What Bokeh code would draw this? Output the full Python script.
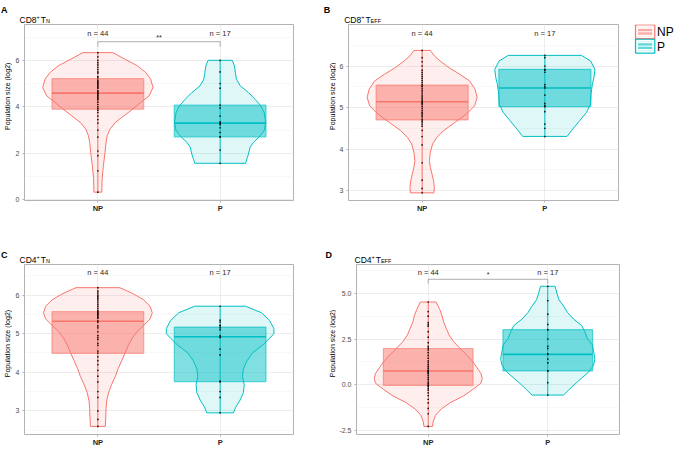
import math
from bokeh.plotting import figure
from bokeh.layouts import row, column
from bokeh.models import Range1d, FixedTicker
from bokeh.embed import file_html
from bokeh.resources import INLINE
from bokeh.core.properties import value

FONT = "Liberation Sans"
NP_COLOR = "#F8766D"
P_COLOR = "#00BFC4"

groups = ["NP", "P"]
n_labels = ["n = 44", "n = 17"]
y_title = "Population size (log2)"

# ---------------- Panel A : CD8+ T_N ----------------
a_np_points = [0.33, 1.25, 1.9, 2.1, 2.7, 3.0, 3.3, 3.45, 3.6, 3.75, 3.85, 3.92, 4.0, 4.1, 4.2, 4.3,
               4.35, 4.4, 4.45, 4.5, 4.55, 4.58, 4.6, 4.65, 4.7, 4.8, 4.85, 4.9, 4.95, 5.0, 5.05,
               5.1, 5.15, 5.25, 5.3, 5.45, 5.5, 5.6, 5.7, 5.8, 5.9, 6.0, 6.15, 6.33]
a_p_points = [1.57, 2.14, 2.7, 2.72, 2.9, 3.1, 3.23, 3.3, 3.3, 3.35, 3.6, 3.95, 4.07, 4.8, 5.0, 5.5, 6.0]
a_np_box = [3.90, 4.59, 5.21]   # q1, median, q3
a_p_box = [2.71, 3.30, 4.07]
a_np_viol_y = [6.33, 6.04, 5.76, 5.47, 5.19, 4.83, 4.47, 4.19, 3.90, 3.61, 3.33, 3.04, 2.76, 2.47,
               2.04, 1.47, 0.90, 0.33]
a_np_viol_w = [0.123, 0.224, 0.325, 0.392, 0.432, 0.451, 0.419, 0.352, 0.285, 0.213, 0.144, 0.099,
               0.077, 0.067, 0.059, 0.045, 0.035, 0.032]
a_p_viol_y = [6.0, 5.76, 5.47, 5.19, 4.90, 4.61, 4.33, 4.04, 3.76, 3.33, 2.97, 2.69, 2.47, 2.26,
              1.97, 1.76, 1.57]
a_p_viol_w = [0.099, 0.117, 0.125, 0.133, 0.165, 0.232, 0.285, 0.333, 0.36, 0.373, 0.36, 0.317,
              0.272, 0.245, 0.232, 0.219, 0.208]

# ---------------- Panel B : CD8+ T_EFF ----------------
b_np_points = [2.944, 3.05, 3.25, 3.67, 4.1, 4.3, 4.45, 4.55, 4.6, 4.65, 4.68, 4.72, 4.78, 4.82, 4.85,
               4.88, 4.92, 4.97, 5.02, 5.07, 5.1, 5.12, 5.15, 5.18, 5.22, 5.26, 5.3, 5.35, 5.4, 5.45,
               5.5, 5.52, 5.55, 5.6, 5.65, 5.7, 5.75, 5.8, 5.85, 5.9, 6.0, 6.1, 6.2, 6.376]
b_p_points = [4.3, 4.5, 4.6, 4.9, 5.02, 5.05, 5.1, 5.3, 5.47, 5.5, 5.55, 5.85, 5.9, 5.92, 6.0, 6.2, 6.256]
b_np_box = [4.70, 5.14, 5.54]
b_p_box = [5.02, 5.47, 5.92]
b_np_viol_y = [6.376, 6.24, 6.12, 5.96, 5.80, 5.64, 5.44, 5.24, 5.04, 4.84, 4.64, 4.44, 4.28, 4.12,
               3.92, 3.72, 3.56, 3.40, 3.24, 3.08, 2.944]
b_np_viol_w = [0.067, 0.101, 0.147, 0.219, 0.307, 0.387, 0.432, 0.448, 0.427, 0.36, 0.267, 0.173,
               0.12, 0.085, 0.067, 0.059, 0.067, 0.08, 0.093, 0.099, 0.096]
b_p_viol_y = [6.256, 6.12, 5.92, 5.72, 5.56, 5.32, 5.08, 4.88, 4.68, 4.48, 4.304]
b_p_viol_w = [0.299, 0.373, 0.408, 0.40, 0.387, 0.376, 0.371, 0.339, 0.283, 0.227, 0.181]

# ---------------- Panel C : CD4+ T_N ----------------
c_np_points = [2.6, 2.78, 3.0, 3.35, 3.5, 3.75, 3.9, 4.05, 4.2, 4.3, 4.4, 4.5, 4.55, 4.7, 4.75, 4.85,
               4.9, 4.95, 5.05, 5.15, 5.2, 5.3, 5.33, 5.4, 5.42, 5.45, 5.48, 5.5, 5.52, 5.55, 5.57,
               5.6, 5.65, 5.7, 5.75, 5.8, 5.85, 5.9, 5.93, 5.97, 6.0, 6.05, 6.1, 6.19]
c_p_points = [2.95, 3.35, 3.5, 3.75, 3.77, 4.45, 4.6, 4.9, 4.92, 4.95, 5.1, 5.15, 5.2, 5.22, 5.3, 5.35, 5.71]
c_np_box = [4.49, 5.32, 5.57]
c_p_box = [3.76, 4.92, 5.17]
c_np_viol_y = [6.19, 6.04, 5.88, 5.71, 5.54, 5.38, 5.21, 5.05, 4.88, 4.71, 4.51, 4.30, 4.09, 3.89,
               3.68, 3.47, 3.26, 3.06, 2.81, 2.60]
c_np_viol_w = [0.179, 0.285, 0.373, 0.427, 0.445, 0.427, 0.373, 0.32, 0.28, 0.251, 0.224, 0.195,
               0.165, 0.143, 0.112, 0.087, 0.072, 0.067, 0.064, 0.061]
c_p_viol_y = [5.71, 5.54, 5.34, 5.13, 5.0, 4.88, 4.71, 4.51, 4.30, 4.09, 3.89, 3.68, 3.47, 3.26,
              3.10, 2.95]
c_p_viol_w = [0.208, 0.339, 0.405, 0.44, 0.44, 0.405, 0.35, 0.267, 0.22, 0.19, 0.183, 0.197, 0.19,
              0.16, 0.128, 0.109]

# ---------------- Panel D : CD4+ T_EFF ----------------
d_np_points = [-2.29, -1.6, -1.3, -1.0, -0.8, -0.6, -0.45, -0.3, -0.2, -0.1, -0.05, -0.02, 0.05, 0.1,
               0.2, 0.3, 0.4, 0.5, 0.6, 0.65, 0.7, 0.73, 0.77, 0.8, 0.9, 1.0, 1.1, 1.2, 1.3, 1.45,
               1.6, 1.75, 1.9, 2.0, 2.1, 2.3, 2.6, 2.9, 3.2, 3.3, 3.4, 3.75, 4.0, 4.525]
d_p_points = [-0.57, 0.11, 0.75, 0.76, 1.19, 1.4, 1.66, 1.7, 1.98, 2.1, 2.5, 3.01, 3.02, 3.3, 3.86, 4.6, 5.387]
d_np_box = [-0.04, 0.75, 1.98]
d_p_box = [0.75, 1.66, 3.01]
d_np_viol_y = [4.525, 4.12, 3.77, 3.42, 3.07, 2.72, 2.36, 2.01, 1.66, 1.31, 0.96, 0.61, 0.343,
               0.079, -0.27, -0.62, -0.975, -1.33, -1.68, -2.03, -2.29]
d_np_viol_w = [0.066, 0.096, 0.116, 0.129, 0.152, 0.174, 0.212, 0.262, 0.317, 0.366, 0.405, 0.441,
               0.452, 0.441, 0.372, 0.295, 0.187, 0.110, 0.061, 0.041, 0.036]
d_p_viol_y = [5.387, 5.0, 4.65, 4.30, 3.95, 3.59, 3.24, 2.89, 2.54, 2.19, 1.84, 1.40, 1.05, 0.69,
              0.34, -0.01, -0.27, -0.57]
d_p_viol_w = [0.061, 0.077, 0.094, 0.132, 0.165, 0.215, 0.284, 0.311, 0.33, 0.372, 0.383, 0.394,
              0.383, 0.342, 0.281, 0.22, 0.179, 0.132]

COLORS = [NP_COLOR, P_COLOR]
BOX_HALF = 0.375
STRIP_H = 23


def blank(width, height):
    """A figure with no axes whose frame fills it, in pixel-like coordinates (y down)."""
    f = figure(width=width, height=height, x_range=Range1d(0, width), y_range=Range1d(height, 0),
               output_backend="svg", toolbar_location=None, title=None,
               x_axis_location=None, y_axis_location=None, min_border=0)
    f.outline_line_color = None
    f.grid.visible = False
    f.background_fill_color = "white"
    f.border_fill_color = "white"
    return f


def txt(f, x, y, s, size, bold=False, align="left", baseline="alphabetic", angle=0.0,
        color="black"):
    f.text(x=[x], y=[y], text=[s], text_font=value(FONT), text_font_size=f"{size}px",
           text_font_style="bold" if bold else "normal", text_align=align,
           text_baseline=baseline, angle=angle, text_color=color)


def title_strip(width, letter, letter_x, letter_base, frame_left, main, sub):
    f = blank(width, STRIP_H)
    txt(f, letter_x, letter_base, letter, 9, bold=True)
    txt(f, frame_left + 0.7, 19.0, main, 8.5)
    txt(f, frame_left + 17.8, 16.2, "+", 5.5)
    txt(f, frame_left + 22.0, 19.0, "T", 8.5)
    txt(f, frame_left + 27.1, 20.4, sub, 5.5)
    return f


def ylabel_strip(width, height, x_center, y_center):
    f = blank(width, height)
    txt(f, x_center, y_center, y_title, 7, align="center", baseline="middle", angle=math.pi / 2)
    return f


def make_panel(y_lim, y_major, y_minor, points, boxes, viol_y, viol_w, n_y, bracket,
               width, height, borders, yt_overrides=None):
    left, right, top, bottom = borders
    p = figure(width=width, height=height, x_range=Range1d(0.4, 2.6),
               y_range=Range1d(*y_lim), output_backend="svg", toolbar_location=None,
               title=None, min_border_left=left, min_border_right=right,
               min_border_top=top, min_border_bottom=bottom)
    p.background_fill_color = "white"
    p.border_fill_color = "white"
    p.outline_line_color = "#b3b3b3"
    p.outline_line_width = 1

    p.xaxis.ticker = FixedTicker(ticks=[1, 2])
    p.xaxis.major_label_overrides = {1: groups[0], 2: groups[1]}
    p.yaxis.ticker = FixedTicker(ticks=y_major, minor_ticks=y_minor)
    if yt_overrides:
        p.yaxis.major_label_overrides = yt_overrides
    p.axis.axis_line_color = None
    p.axis.major_tick_line_color = "#b3b3b3"
    p.axis.major_tick_out = 2
    p.axis.major_tick_in = 0
    p.axis.minor_tick_line_color = None
    p.axis.major_label_standoff = 1
    p.yaxis.major_label_text_font_size = "7px"
    p.yaxis.major_label_text_color = "#4d4d4d"
    p.yaxis.major_label_text_font = FONT
    p.xaxis.major_label_text_font_size = "7.5px"
    p.xaxis.major_label_text_font_style = "bold"
    p.xaxis.major_label_text_color = "#262626"
    p.xaxis.major_label_text_font = FONT

    p.grid.grid_line_color = "#e8e8e8"
    p.grid.grid_line_width = 0.8
    p.ygrid.minor_grid_line_color = "#f3f3f3"
    p.ygrid.minor_grid_line_width = 0.6

    for i in range(2):
        c = i + 1
        col = COLORS[i]
        vy = viol_y[i]
        vw = viol_w[i]
        xs = [c - w for w in vw] + [c + w for w in reversed(vw)]
        ys = list(vy) + list(reversed(vy))
        p.patch(xs, ys, fill_color=col, fill_alpha=0.12, line_color=col, line_width=1)
        q1, med, q3 = boxes[i]
        p.quad(left=[c - BOX_HALF], right=[c + BOX_HALF], bottom=[q1], top=[q3],
               fill_color=col, fill_alpha=0.5, line_color=col, line_alpha=0.6, line_width=1.2)
        p.segment(x0=[c - BOX_HALF], x1=[c + BOX_HALF], y0=[med], y1=[med],
                  line_color=col, line_width=1.6)
        pts = points[i]
        p.segment(x0=[c], x1=[c], y0=[min(pts)], y1=[max(pts)], line_color=col, line_width=1)
        p.scatter(x=[c] * len(pts), y=pts, size=1.7, fill_color="black", line_color=None,
                  fill_alpha=0.9)

    p.text(x=[1, 2], y=[n_y, n_y], text=n_labels, text_font=value(FONT),
           text_font_size="7.5px", text_align="center", text_baseline="middle",
           text_color="#262626")

    if bracket is not None:
        b_hi, b_lo, stars = bracket
        p.line([1, 1, 2, 2], [b_lo, b_hi, b_hi, b_lo], line_color="#a6a6a6", line_width=0.9)
        p.text(x=[1.5], y=[b_hi], text=[stars], text_font=value(FONT), text_font_size="7px",
               text_align="center", text_baseline="bottom", y_offset=-1, text_color="#262626")
    return p


# ---- row 1 ----
R1H = 240 - STRIP_H
tA = title_strip(310, "A", 0.5, 9.0, 18.3, "CD8", "N")
tB = title_strip(365, "B", 13.3, 9.0, 33.0, "CD8", "EFF")
yA = ylabel_strip(12, R1H, 7.0, 88.5)
pA = make_panel((-0.03, 7.54), [0, 2, 4, 6], [1, 3, 5, 7],
                [a_np_points, a_p_points], [a_np_box, a_p_box], [a_np_viol_y, a_p_viol_y],
                [a_np_viol_w, a_p_viol_w], 7.16, (6.80, 6.58, "**"),
                298, R1H, (6, 17, 1, 40))
yB = ylabel_strip(26, R1H, 21.5, 88.5)
pB = make_panel((2.76, 7.0), [3, 4, 5, 6], [3.5, 4.5, 5.5, 6.5],
                [b_np_points, b_p_points], [b_np_box, b_p_box], [b_np_viol_y, b_p_viol_y],
                [b_np_viol_w, b_p_viol_w], 6.78, None,
                289, R1H, (7, 7, 1, 40))

# ---- legend ----
leg = blank(50, R1H)
key_left, key_right = 10.0, 29.3
key_tops = [0.5, 18.2]
key_h = 17.0
for i in range(2):
    col = COLORS[i]
    t = key_tops[i]
    b = t + key_h
    leg.quad(left=[key_left], right=[key_right], top=[t], bottom=[b], fill_color=col,
             fill_alpha=0.15, line_color=col, line_width=1.2)
    bt = t + key_h * 0.25
    bb = t + key_h * 0.75
    leg.quad(left=[key_left + 2], right=[key_right - 2], top=[bt], bottom=[bb], fill_color=col,
             fill_alpha=0.55, line_color="white", line_width=1)
    leg.quad(left=[key_left + 1.5], right=[key_right - 1.5], top=[t + 1.5], bottom=[b - 1.5],
             fill_alpha=0, line_color="white", line_width=0.8)
    mid = (key_left + key_right) / 2
    leg.segment(x0=[key_left + 2], x1=[key_right - 2], y0=[(bt + bb) / 2], y1=[(bt + bb) / 2],
                line_color="white", line_width=1)
    leg.segment(x0=[mid, mid], x1=[mid, mid], y0=[t + 1.5, bb], y1=[bt, b - 1.5],
                line_color="white", line_width=0.8)
    txt(leg, key_right + 2.3, (t + b) / 2 + 0.5, groups[i], 12, baseline="middle")

# ---- row 2 ----
R2H = 449 - 240 - STRIP_H
tC = title_strip(310, "C", 0.5, 14.0, 18.3, "CD4", "N")
tD = title_strip(365, "D", 15.0, 14.5, 43.3, "CD4", "EFF")
yC = ylabel_strip(12, R2H, 7.0, 86.5)
pC = make_panel((2.39, 6.79), [3, 4, 5, 6], [2.5, 3.5, 4.5, 5.5, 6.5],
                [c_np_points, c_p_points], [c_np_box, c_p_box], [c_np_viol_y, c_p_viol_y],
                [c_np_viol_w, c_p_viol_w], 6.58, None,
                298, R2H, (6, 17, 1, 10))
yD = ylabel_strip(26, R2H, 21.5, 86.5)
pD = make_panel((-2.73, 6.58), [-2.5, 0, 2.5, 5], [-1.25, 1.25, 3.75, 6.25],
                [d_np_points, d_p_points], [d_np_box, d_p_box], [d_np_viol_y, d_p_viol_y],
                [d_np_viol_w, d_p_viol_w], 6.14, (5.77, 5.53, "*"),
                289, R2H, (17, 6, 1, 10),
                yt_overrides={-2.5: "-2.5", 0: "0.0", 2.5: "2.5", 5: "5.0"})

layout = column(row(tA, tB), row(yA, pA, yB, pB, leg),
                row(tC, tD), row(yC, pC, yD, pD))

with open("out.html", "w") as f:
    f.write(file_html(layout, INLINE))
